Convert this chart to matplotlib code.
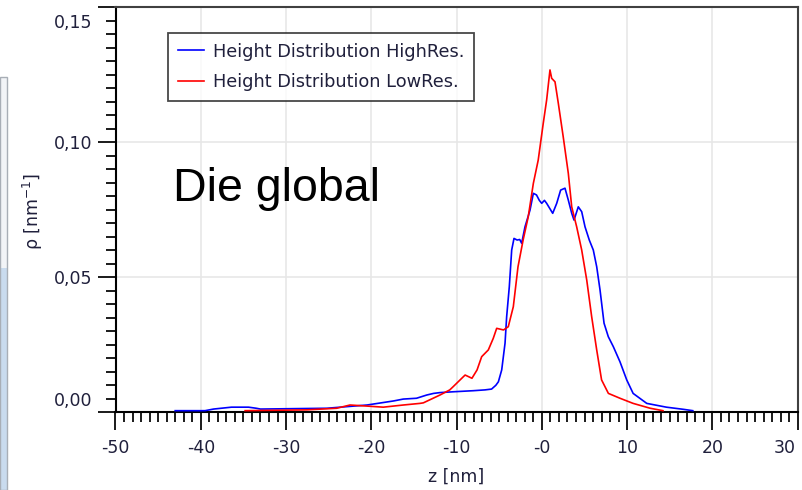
import matplotlib
matplotlib.use("Agg")
import matplotlib.pyplot as plt
from matplotlib.patches import Rectangle
from matplotlib.transforms import ScaledTranslation
from matplotlib.ticker import FixedLocator, MultipleLocator

# Height distribution, high resolution run
z_high = [-43.0, -39.5, -38.5, -36.4, -34.4, -33.5, -33.0, -25.2, -20.5, -17.4,
          -16.25, -14.7, -13.5, -12.7, -11.95, -10.4, -8.04, -6.67, -5.9, -5.4,
          -5.1, -4.71, -4.32, -4.13, -3.82, -3.54, -3.27, -2.9, -2.6, -2.37,
          -1.98, -1.39, -1.0, -0.63, -0.3, -0.02, 0.3, 0.56, 1.27, 1.74,
          2.2, 2.71, 3.1, 3.5, 3.77, 4.27, 4.67, 5.06, 5.56, 6.03,
          6.43, 6.82, 7.29, 7.79, 8.38, 9.16, 9.95, 10.7, 12.3, 14.6,
          16.6, 17.7]
rho_high = [0.0006, 0.0006, 0.0012, 0.0019, 0.0019, 0.0015, 0.0012, 0.0015, 0.0027, 0.0042,
            0.0049, 0.0052, 0.0064, 0.0070, 0.0073, 0.0076, 0.0080, 0.0083, 0.0086, 0.0100,
            0.0113, 0.0157, 0.0256, 0.0354, 0.0465, 0.0601, 0.0644, 0.0638, 0.0640, 0.0626,
            0.0687, 0.0749, 0.0811, 0.0805, 0.0785, 0.0774, 0.0785, 0.0774, 0.0737, 0.0774,
            0.0823, 0.0830, 0.0786, 0.0737, 0.0712, 0.0761, 0.0743, 0.0687, 0.0638, 0.0601,
            0.0539, 0.0453, 0.0330, 0.0280, 0.0243, 0.0187, 0.0120, 0.0070, 0.0033, 0.0019,
            0.0011, 0.0006]

# Height distribution, low resolution run
z_low = [-34.8, -27.6, -24.06, -22.5, -20.5, -18.6, -16.25, -14.3, -13.9, -11.95,
         -10.8, -10.4, -9.2, -9.0, -8.2, -7.6, -7.06, -6.28, -5.7, -5.3,
         -4.5, -3.94, -3.35, -2.8, -2.2, -1.6, -1.0, -0.43, 0.16, 0.56,
         0.95, 1.15, 1.54, 1.93, 2.5, 3.1, 3.5, 4.08, 4.67, 5.26,
         5.84, 6.43, 7.0, 7.8, 9.16, 10.7, 12.7, 14.2]
rho_low = [0.0006, 0.0009, 0.0015, 0.0027, 0.0023, 0.0019, 0.0027, 0.0033, 0.0035, 0.0064,
           0.0083, 0.0095, 0.0132, 0.0138, 0.0126, 0.0157, 0.0206, 0.0231, 0.0274, 0.0311,
           0.0305, 0.0317, 0.0391, 0.0539, 0.0638, 0.0724, 0.0848, 0.0934, 0.1070, 0.1157,
           0.1268, 0.1237, 0.1224, 0.1144, 0.1021, 0.0885, 0.0761, 0.0687, 0.0601, 0.0490,
           0.0354, 0.0231, 0.0120, 0.0070, 0.0052, 0.0033, 0.0015, 0.0006]

x_ticks = [-50, -40, -30, -20, -10, 0, 10, 20, 30]
x_tick_labels = ["-50", "-40", "-30", "-20", "-10", "-0", "10", "20", "30"]
y_ticks = [0.00, 0.05, 0.10, 0.15]
y_tick_labels = ["0,00", "0,05", "0,10", "0,15"]
series_labels = ["Height Distribution HighRes.", "Height Distribution LowRes."]

W, H = 802, 490
fig = plt.figure(figsize=(W / 100, H / 100), dpi=100)
fig.patch.set_facecolor("white")

left, right, top, bottom = 115.5, 797.7, 7.3, 412.3
ax = fig.add_axes([left / W, 1 - bottom / H, (right - left) / W, (bottom - top) / H])

text_color = "#20203c"
tick_color = "#1a1a1a"

ax.plot(z_high, rho_high, color="#0000ff", lw=1.2, label=series_labels[0], zorder=3)
ax.plot(z_low, rho_low, color="#ff0000", lw=1.2, label=series_labels[1], zorder=3)

ax.set_xlim(-50, 30)
ax.set_ylim(0, 0.15)

ax.xaxis.set_major_locator(FixedLocator(x_ticks))
ax.xaxis.set_minor_locator(MultipleLocator(1))
ax.yaxis.set_major_locator(FixedLocator(y_ticks))
ax.yaxis.set_minor_locator(MultipleLocator(0.005))
ax.set_xticklabels(x_tick_labels)
ax.set_yticklabels(y_tick_labels)

ax.tick_params(which="major", length=13, width=1.4, color=tick_color,
               labelsize=12.5, labelcolor=text_color, direction="out")
ax.tick_params(which="minor", length=7.5, width=1.4, color=tick_color, direction="out")
ax.tick_params(axis="x", which="major", pad=6.5)
ax.tick_params(axis="y", which="major", pad=3.5)

ax.grid(True, which="major", color="#e6e6e6", lw=1.1, zorder=0)
ax.set_axisbelow(True)

for side in ("left", "bottom"):
    ax.spines[side].set_color("#000000")
    ax.spines[side].set_linewidth(1.5)
for side in ("top", "right"):
    ax.spines[side].set_color("#404040")
    ax.spines[side].set_linewidth(1.5)

ax.set_xlabel("z [nm]", fontsize=12.5, color=text_color)
ax.set_ylabel(r"ρ [nm$^{\mathregular{-1}}$]", fontsize=12.5, color=text_color)
ax.xaxis.set_label_coords(0.5, -0.138)
ax.yaxis.set_label_coords(-0.103, 0.497)

leg = ax.legend(loc="upper left", bbox_to_anchor=(0.0774, 0.937), borderaxespad=0,
                fontsize=12.8, frameon=True, fancybox=False, handlelength=1.45,
                handletextpad=0.5, borderpad=0.55, labelspacing=0.7)
leg.get_frame().set_edgecolor("#1a1a1a")
leg.get_frame().set_linewidth(1.3)
for t in leg.get_texts():
    t.set_color(text_color)

ax.text(0.0843, 0.5225, "Die global", transform=ax.transAxes, ha="left",
        va="baseline", fontsize=33.5, family="Liberation Sans", color="black")

# keep the end labels inside the plotting frame
dpi_tr = fig.dpi_scale_trans
ylabs = ax.yaxis.get_majorticklabels()
ylabs[0].set_transform(ylabs[0].get_transform() + ScaledTranslation(0, 13 / 100, dpi_tr))
ylabs[-1].set_transform(ylabs[-1].get_transform() + ScaledTranslation(0, -13.4 / 100, dpi_tr))
xlabs = ax.xaxis.get_majorticklabels()
xlabs[-1].set_transform(xlabs[-1].get_transform() + ScaledTranslation(-12.7 / 100, 0, dpi_tr))

# window frame peeking in at the left edge
fig.add_artist(Rectangle((0, 0), 7 / W, (H - 77) / H, transform=fig.transFigure,
                         facecolor="#f2f4f7", edgecolor="none", zorder=0))
fig.add_artist(Rectangle((0, 0), 7 / W, (H - 268) / H, transform=fig.transFigure,
                         facecolor="#c9dbee", edgecolor="none", zorder=0))
fig.add_artist(Rectangle((0, 0), 6.5 / W, (H - 77) / H, transform=fig.transFigure,
                         facecolor="none", edgecolor="#a8aeb6", lw=1.0, zorder=0))

fig.savefig("out.png", dpi=100)
